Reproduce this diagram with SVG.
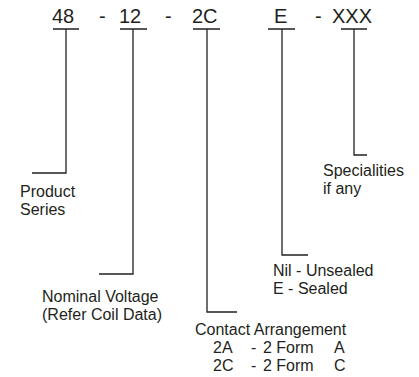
<svg xmlns="http://www.w3.org/2000/svg" width="419" height="377" viewBox="0 0 419 377">
<style>
.code{font-family:"Liberation Sans",Arial,sans-serif;font-size:20px;fill:#231f20}
.lbl{font-family:"Liberation Sans",Arial,sans-serif;font-size:16px;fill:#231f20}
.ln{fill:none;stroke:#231f20;stroke-width:1.3}
</style>
<rect width="419" height="377" fill="#fff"/>
<g id="code">
<text class="code" x="52" y="23">48</text>
<text class="code" x="99" y="23">-</text>
<text class="code" x="119" y="23">12</text>
<text class="code" x="165" y="23">-</text>
<text class="code" x="192" y="23">2C</text>
<text class="code" x="274" y="23">E</text>
<text class="code" x="315" y="23">-</text>
<text class="code" x="332" y="23">XXX</text>
</g>
<g id="connectors">
<path class="ln" d="M53,29H79M66,29V173H32"/>
<path class="ln" d="M120,29H147M133,29V274H99"/>
<path class="ln" d="M193,29H220M207,29V312H237"/>
<path class="ln" d="M268,29H295M282,29V255H308"/>
<path class="ln" d="M341,29H367M354,29V155H367"/>
</g>
<g id="product-series">
<text class="lbl" x="20" y="197">Product</text>
<text class="lbl" x="20" y="215">Series</text>
</g>
<g id="nominal-voltage">
<text class="lbl" x="42" y="302">Nominal Voltage</text>
<text class="lbl" x="42" y="320">(Refer Coil Data)</text>
</g>
<g id="contact-arrangement">
<text class="lbl" x="195" y="335">Contact Arrangement</text>
<text class="lbl" x="213" y="353">2A</text>
<text class="lbl" x="251" y="353">-</text>
<text class="lbl" x="263" y="353">2 Form</text>
<text class="lbl" x="334" y="353">A</text>
<text class="lbl" x="213" y="371">2C</text>
<text class="lbl" x="251" y="371">-</text>
<text class="lbl" x="263" y="371">2 Form</text>
<text class="lbl" x="334" y="371">C</text>
</g>
<g id="sealing">
<text class="lbl" x="273" y="276">Nil - Unsealed</text>
<text class="lbl" x="273" y="294">E - Sealed</text>
</g>
<g id="specialities">
<text class="lbl" x="323" y="176">Specialities</text>
<text class="lbl" x="323" y="194">if any</text>
</g>
</svg>
